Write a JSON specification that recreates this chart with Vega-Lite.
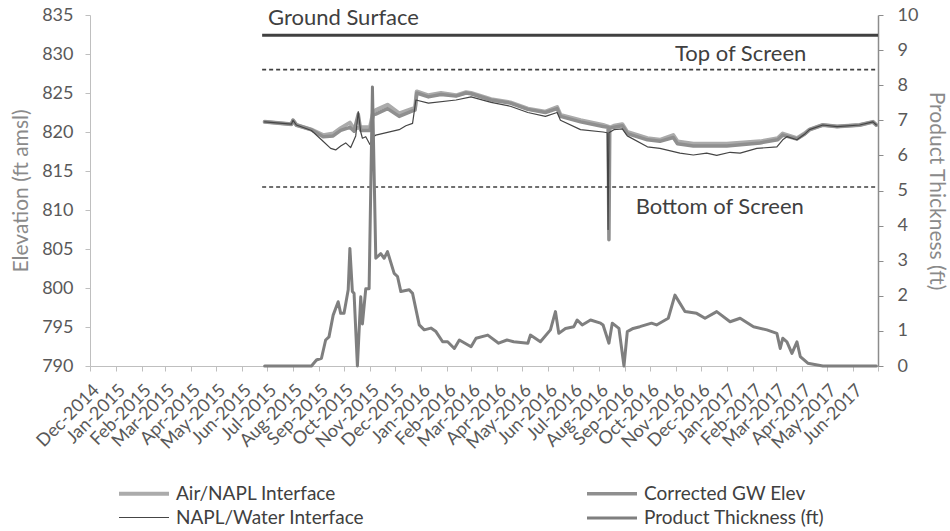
{
  "$schema": "https://vega.github.io/schema/vega-lite/v6.json",
  "width": 788,
  "height": 351,
  "autosize": {"type": "none"},
  "padding": {"left": 90, "top": 15, "right": 72, "bottom": 165},
  "background": "white",
  "config": {
    "view": {"stroke": null},
    "font": "Lato",
    "axis": {"grid": false, "domainColor": "#bfbfbf", "tickColor": "#bfbfbf", "labelColor": "#595959", "labelFontSize": 18, "titleColor": "#8a8a8a", "titleFontSize": 21, "titleFontWeight": "normal", "tickSize": 5, "labelFont": "Lato", "titleFont": "Lato", "labelOverlap": false},
    "legend": {"labelFont": "Lato"}
  },
  "datasets": {
    "elev": [
      {"date": "2015-06-28", "series": "Air/NAPL Interface", "value": 821.3},
      {"date": "2015-07-30", "series": "Air/NAPL Interface", "value": 821.0},
      {"date": "2015-08-01", "series": "Air/NAPL Interface", "value": 821.5},
      {"date": "2015-08-05", "series": "Air/NAPL Interface", "value": 820.9},
      {"date": "2015-08-23", "series": "Air/NAPL Interface", "value": 820.3},
      {"date": "2015-09-06", "series": "Air/NAPL Interface", "value": 819.6},
      {"date": "2015-09-18", "series": "Air/NAPL Interface", "value": 819.8},
      {"date": "2015-09-27", "series": "Air/NAPL Interface", "value": 820.5},
      {"date": "2015-10-08", "series": "Air/NAPL Interface", "value": 821.2},
      {"date": "2015-10-13", "series": "Air/NAPL Interface", "value": 820.4},
      {"date": "2015-10-21", "series": "Air/NAPL Interface", "value": 820.6},
      {"date": "2015-11-01", "series": "Air/NAPL Interface", "value": 820.6},
      {"date": "2015-11-05", "series": "Air/NAPL Interface", "value": 822.6},
      {"date": "2015-11-08", "series": "Air/NAPL Interface", "value": 822.8},
      {"date": "2015-11-22", "series": "Air/NAPL Interface", "value": 823.5},
      {"date": "2015-12-06", "series": "Air/NAPL Interface", "value": 822.4},
      {"date": "2015-12-22", "series": "Air/NAPL Interface", "value": 823.0},
      {"date": "2015-12-25", "series": "Air/NAPL Interface", "value": 823.1},
      {"date": "2015-12-27", "series": "Air/NAPL Interface", "value": 825.2},
      {"date": "2016-01-10", "series": "Air/NAPL Interface", "value": 824.7},
      {"date": "2016-01-25", "series": "Air/NAPL Interface", "value": 825.0},
      {"date": "2016-02-12", "series": "Air/NAPL Interface", "value": 824.7},
      {"date": "2016-02-24", "series": "Air/NAPL Interface", "value": 825.1},
      {"date": "2016-03-01", "series": "Air/NAPL Interface", "value": 825.0},
      {"date": "2016-03-25", "series": "Air/NAPL Interface", "value": 824.2},
      {"date": "2016-04-17", "series": "Air/NAPL Interface", "value": 823.8},
      {"date": "2016-05-08", "series": "Air/NAPL Interface", "value": 823.0},
      {"date": "2016-05-29", "series": "Air/NAPL Interface", "value": 822.6},
      {"date": "2016-06-12", "series": "Air/NAPL Interface", "value": 823.2},
      {"date": "2016-06-16", "series": "Air/NAPL Interface", "value": 822.2},
      {"date": "2016-07-10", "series": "Air/NAPL Interface", "value": 821.5},
      {"date": "2016-08-06", "series": "Air/NAPL Interface", "value": 820.9},
      {"date": "2016-08-15", "series": "Air/NAPL Interface", "value": 820.6},
      {"date": "2016-08-19", "series": "Air/NAPL Interface", "value": 820.8},
      {"date": "2016-08-29", "series": "Air/NAPL Interface", "value": 821.0},
      {"date": "2016-09-04", "series": "Air/NAPL Interface", "value": 820.0},
      {"date": "2016-09-28", "series": "Air/NAPL Interface", "value": 819.2},
      {"date": "2016-10-13", "series": "Air/NAPL Interface", "value": 819.0},
      {"date": "2016-10-29", "series": "Air/NAPL Interface", "value": 819.6},
      {"date": "2016-11-03", "series": "Air/NAPL Interface", "value": 818.8},
      {"date": "2016-11-22", "series": "Air/NAPL Interface", "value": 818.5},
      {"date": "2017-01-01", "series": "Air/NAPL Interface", "value": 818.5},
      {"date": "2017-02-10", "series": "Air/NAPL Interface", "value": 818.8},
      {"date": "2017-03-03", "series": "Air/NAPL Interface", "value": 819.2},
      {"date": "2017-03-09", "series": "Air/NAPL Interface", "value": 819.8},
      {"date": "2017-03-26", "series": "Air/NAPL Interface", "value": 819.2},
      {"date": "2017-04-04", "series": "Air/NAPL Interface", "value": 819.8},
      {"date": "2017-04-10", "series": "Air/NAPL Interface", "value": 820.3},
      {"date": "2017-04-26", "series": "Air/NAPL Interface", "value": 820.9},
      {"date": "2017-05-13", "series": "Air/NAPL Interface", "value": 820.7},
      {"date": "2017-06-09", "series": "Air/NAPL Interface", "value": 820.9},
      {"date": "2017-06-25", "series": "Air/NAPL Interface", "value": 821.3},
      {"date": "2017-06-29", "series": "Air/NAPL Interface", "value": 820.9},

      {"date": "2015-06-28", "series": "Corrected GW Elev", "value": 821.3},
      {"date": "2015-07-30", "series": "Corrected GW Elev", "value": 821.0},
      {"date": "2015-08-01", "series": "Corrected GW Elev", "value": 821.5},
      {"date": "2015-08-05", "series": "Corrected GW Elev", "value": 820.9},
      {"date": "2015-08-23", "series": "Corrected GW Elev", "value": 820.3},
      {"date": "2015-09-06", "series": "Corrected GW Elev", "value": 819.4},
      {"date": "2015-09-18", "series": "Corrected GW Elev", "value": 819.5},
      {"date": "2015-09-27", "series": "Corrected GW Elev", "value": 820.2},
      {"date": "2015-10-08", "series": "Corrected GW Elev", "value": 820.6},
      {"date": "2015-10-13", "series": "Corrected GW Elev", "value": 820.1},
      {"date": "2015-10-18", "series": "Corrected GW Elev", "value": 822.3},
      {"date": "2015-10-21", "series": "Corrected GW Elev", "value": 820.2},
      {"date": "2015-11-01", "series": "Corrected GW Elev", "value": 820.2},
      {"date": "2015-11-05", "series": "Corrected GW Elev", "value": 822.2},
      {"date": "2015-11-08", "series": "Corrected GW Elev", "value": 822.3},
      {"date": "2015-11-22", "series": "Corrected GW Elev", "value": 823.0},
      {"date": "2015-12-06", "series": "Corrected GW Elev", "value": 822.0},
      {"date": "2015-12-22", "series": "Corrected GW Elev", "value": 822.7},
      {"date": "2015-12-25", "series": "Corrected GW Elev", "value": 822.8},
      {"date": "2015-12-27", "series": "Corrected GW Elev", "value": 825.0},
      {"date": "2016-01-10", "series": "Corrected GW Elev", "value": 824.5},
      {"date": "2016-01-25", "series": "Corrected GW Elev", "value": 824.8},
      {"date": "2016-02-12", "series": "Corrected GW Elev", "value": 824.6},
      {"date": "2016-02-24", "series": "Corrected GW Elev", "value": 825.0},
      {"date": "2016-03-01", "series": "Corrected GW Elev", "value": 824.9},
      {"date": "2016-03-25", "series": "Corrected GW Elev", "value": 824.1},
      {"date": "2016-04-17", "series": "Corrected GW Elev", "value": 823.7},
      {"date": "2016-05-08", "series": "Corrected GW Elev", "value": 822.9},
      {"date": "2016-05-29", "series": "Corrected GW Elev", "value": 822.5},
      {"date": "2016-06-12", "series": "Corrected GW Elev", "value": 823.0},
      {"date": "2016-06-16", "series": "Corrected GW Elev", "value": 822.0},
      {"date": "2016-07-10", "series": "Corrected GW Elev", "value": 821.3},
      {"date": "2016-08-06", "series": "Corrected GW Elev", "value": 820.7},
      {"date": "2016-08-12", "series": "Corrected GW Elev", "value": 820.6},
      {"date": "2016-08-13", "series": "Corrected GW Elev", "value": 806.2},
      {"date": "2016-08-14", "series": "Corrected GW Elev", "value": 820.5},
      {"date": "2016-08-19", "series": "Corrected GW Elev", "value": 820.6},
      {"date": "2016-08-29", "series": "Corrected GW Elev", "value": 820.8},
      {"date": "2016-09-04", "series": "Corrected GW Elev", "value": 819.8},
      {"date": "2016-09-28", "series": "Corrected GW Elev", "value": 819.0},
      {"date": "2016-10-13", "series": "Corrected GW Elev", "value": 818.8},
      {"date": "2016-10-29", "series": "Corrected GW Elev", "value": 819.3},
      {"date": "2016-11-03", "series": "Corrected GW Elev", "value": 818.5},
      {"date": "2016-11-22", "series": "Corrected GW Elev", "value": 818.2},
      {"date": "2017-01-01", "series": "Corrected GW Elev", "value": 818.2},
      {"date": "2017-02-10", "series": "Corrected GW Elev", "value": 818.6},
      {"date": "2017-03-03", "series": "Corrected GW Elev", "value": 819.0},
      {"date": "2017-03-09", "series": "Corrected GW Elev", "value": 819.6},
      {"date": "2017-03-26", "series": "Corrected GW Elev", "value": 819.1},
      {"date": "2017-04-04", "series": "Corrected GW Elev", "value": 819.7},
      {"date": "2017-04-10", "series": "Corrected GW Elev", "value": 820.3},
      {"date": "2017-04-26", "series": "Corrected GW Elev", "value": 820.9},
      {"date": "2017-05-13", "series": "Corrected GW Elev", "value": 820.7},
      {"date": "2017-06-09", "series": "Corrected GW Elev", "value": 820.9},
      {"date": "2017-06-25", "series": "Corrected GW Elev", "value": 821.3},
      {"date": "2017-06-29", "series": "Corrected GW Elev", "value": 820.9},

      {"date": "2015-06-28", "series": "NAPL/Water Interface", "value": 821.3},
      {"date": "2015-07-30", "series": "NAPL/Water Interface", "value": 821.0},
      {"date": "2015-08-01", "series": "NAPL/Water Interface", "value": 821.5},
      {"date": "2015-08-05", "series": "NAPL/Water Interface", "value": 820.9},
      {"date": "2015-08-23", "series": "NAPL/Water Interface", "value": 820.2},
      {"date": "2015-09-04", "series": "NAPL/Water Interface", "value": 819.0},
      {"date": "2015-09-15", "series": "NAPL/Water Interface", "value": 817.9},
      {"date": "2015-09-21", "series": "NAPL/Water Interface", "value": 817.7},
      {"date": "2015-09-27", "series": "NAPL/Water Interface", "value": 818.2},
      {"date": "2015-10-03", "series": "NAPL/Water Interface", "value": 818.6},
      {"date": "2015-10-09", "series": "NAPL/Water Interface", "value": 818.0},
      {"date": "2015-10-15", "series": "NAPL/Water Interface", "value": 819.5},
      {"date": "2015-10-18", "series": "NAPL/Water Interface", "value": 822.6},
      {"date": "2015-10-21", "series": "NAPL/Water Interface", "value": 820.0},
      {"date": "2015-10-23", "series": "NAPL/Water Interface", "value": 819.2},
      {"date": "2015-10-27", "series": "NAPL/Water Interface", "value": 819.4},
      {"date": "2015-11-01", "series": "NAPL/Water Interface", "value": 818.4},
      {"date": "2015-11-05", "series": "NAPL/Water Interface", "value": 819.4},
      {"date": "2015-11-08", "series": "NAPL/Water Interface", "value": 819.6},
      {"date": "2015-12-06", "series": "NAPL/Water Interface", "value": 820.3},
      {"date": "2015-12-14", "series": "NAPL/Water Interface", "value": 820.8},
      {"date": "2015-12-22", "series": "NAPL/Water Interface", "value": 821.1},
      {"date": "2015-12-26", "series": "NAPL/Water Interface", "value": 824.1},
      {"date": "2016-01-10", "series": "NAPL/Water Interface", "value": 823.7},
      {"date": "2016-02-12", "series": "NAPL/Water Interface", "value": 824.1},
      {"date": "2016-03-01", "series": "NAPL/Water Interface", "value": 824.5},
      {"date": "2016-03-25", "series": "NAPL/Water Interface", "value": 823.8},
      {"date": "2016-04-17", "series": "NAPL/Water Interface", "value": 823.3},
      {"date": "2016-05-08", "series": "NAPL/Water Interface", "value": 822.5},
      {"date": "2016-05-29", "series": "NAPL/Water Interface", "value": 822.0},
      {"date": "2016-06-12", "series": "NAPL/Water Interface", "value": 822.5},
      {"date": "2016-06-16", "series": "NAPL/Water Interface", "value": 821.5},
      {"date": "2016-07-10", "series": "NAPL/Water Interface", "value": 820.3},
      {"date": "2016-08-06", "series": "NAPL/Water Interface", "value": 820.0},
      {"date": "2016-08-11", "series": "NAPL/Water Interface", "value": 819.9},
      {"date": "2016-08-12", "series": "NAPL/Water Interface", "value": 807.5},
      {"date": "2016-08-13", "series": "NAPL/Water Interface", "value": 819.9},
      {"date": "2016-08-19", "series": "NAPL/Water Interface", "value": 820.3},
      {"date": "2016-08-29", "series": "NAPL/Water Interface", "value": 820.4},
      {"date": "2016-09-04", "series": "NAPL/Water Interface", "value": 819.5},
      {"date": "2016-09-28", "series": "NAPL/Water Interface", "value": 818.1},
      {"date": "2016-10-13", "series": "NAPL/Water Interface", "value": 817.9},
      {"date": "2016-11-06", "series": "NAPL/Water Interface", "value": 817.3},
      {"date": "2016-11-22", "series": "NAPL/Water Interface", "value": 817.05},
      {"date": "2016-12-08", "series": "NAPL/Water Interface", "value": 817.3},
      {"date": "2016-12-20", "series": "NAPL/Water Interface", "value": 817.0},
      {"date": "2017-01-05", "series": "NAPL/Water Interface", "value": 817.4},
      {"date": "2017-01-17", "series": "NAPL/Water Interface", "value": 817.3},
      {"date": "2017-02-06", "series": "NAPL/Water Interface", "value": 817.9},
      {"date": "2017-03-02", "series": "NAPL/Water Interface", "value": 818.1},
      {"date": "2017-03-09", "series": "NAPL/Water Interface", "value": 819.0},
      {"date": "2017-03-14", "series": "NAPL/Water Interface", "value": 819.4},
      {"date": "2017-03-26", "series": "NAPL/Water Interface", "value": 819.0},
      {"date": "2017-04-04", "series": "NAPL/Water Interface", "value": 819.7},
      {"date": "2017-04-10", "series": "NAPL/Water Interface", "value": 820.3},
      {"date": "2017-04-26", "series": "NAPL/Water Interface", "value": 820.9},
      {"date": "2017-05-13", "series": "NAPL/Water Interface", "value": 820.7},
      {"date": "2017-06-09", "series": "NAPL/Water Interface", "value": 820.9},
      {"date": "2017-06-25", "series": "NAPL/Water Interface", "value": 821.3},
      {"date": "2017-06-29", "series": "NAPL/Water Interface", "value": 820.9}
    ],
    "thick": [
      {"date": "2015-06-28", "series": "Product Thickness (ft)", "value": 0},
      {"date": "2015-08-23", "series": "Product Thickness (ft)", "value": 0},
      {"date": "2015-08-29", "series": "Product Thickness (ft)", "value": 0.17},
      {"date": "2015-09-04", "series": "Product Thickness (ft)", "value": 0.22},
      {"date": "2015-09-09", "series": "Product Thickness (ft)", "value": 0.74},
      {"date": "2015-09-13", "series": "Product Thickness (ft)", "value": 0.83},
      {"date": "2015-09-18", "series": "Product Thickness (ft)", "value": 1.45},
      {"date": "2015-09-24", "series": "Product Thickness (ft)", "value": 1.83},
      {"date": "2015-09-27", "series": "Product Thickness (ft)", "value": 1.5},
      {"date": "2015-10-01", "series": "Product Thickness (ft)", "value": 1.5},
      {"date": "2015-10-06", "series": "Product Thickness (ft)", "value": 2.17},
      {"date": "2015-10-08", "series": "Product Thickness (ft)", "value": 3.35},
      {"date": "2015-10-11", "series": "Product Thickness (ft)", "value": 2.12},
      {"date": "2015-10-13", "series": "Product Thickness (ft)", "value": 2.07},
      {"date": "2015-10-17", "series": "Product Thickness (ft)", "value": 0},
      {"date": "2015-10-21", "series": "Product Thickness (ft)", "value": 1.97},
      {"date": "2015-10-23", "series": "Product Thickness (ft)", "value": 1.2},
      {"date": "2015-10-27", "series": "Product Thickness (ft)", "value": 2.2},
      {"date": "2015-10-31", "series": "Product Thickness (ft)", "value": 2.2},
      {"date": "2015-11-04", "series": "Product Thickness (ft)", "value": 7.95},
      {"date": "2015-11-08", "series": "Product Thickness (ft)", "value": 3.07},
      {"date": "2015-11-14", "series": "Product Thickness (ft)", "value": 3.2},
      {"date": "2015-11-18", "series": "Product Thickness (ft)", "value": 3.07},
      {"date": "2015-11-22", "series": "Product Thickness (ft)", "value": 3.26},
      {"date": "2015-11-30", "series": "Product Thickness (ft)", "value": 2.64},
      {"date": "2015-12-04", "series": "Product Thickness (ft)", "value": 2.55},
      {"date": "2015-12-08", "series": "Product Thickness (ft)", "value": 2.12},
      {"date": "2015-12-18", "series": "Product Thickness (ft)", "value": 2.17},
      {"date": "2015-12-22", "series": "Product Thickness (ft)", "value": 2.07},
      {"date": "2015-12-30", "series": "Product Thickness (ft)", "value": 1.17},
      {"date": "2016-01-05", "series": "Product Thickness (ft)", "value": 1.03},
      {"date": "2016-01-13", "series": "Product Thickness (ft)", "value": 1.08},
      {"date": "2016-01-19", "series": "Product Thickness (ft)", "value": 0.98},
      {"date": "2016-01-27", "series": "Product Thickness (ft)", "value": 0.69},
      {"date": "2016-02-02", "series": "Product Thickness (ft)", "value": 0.69},
      {"date": "2016-02-10", "series": "Product Thickness (ft)", "value": 0.5},
      {"date": "2016-02-16", "series": "Product Thickness (ft)", "value": 0.74},
      {"date": "2016-03-01", "series": "Product Thickness (ft)", "value": 0.55},
      {"date": "2016-03-07", "series": "Product Thickness (ft)", "value": 0.79},
      {"date": "2016-03-21", "series": "Product Thickness (ft)", "value": 0.88},
      {"date": "2016-04-03", "series": "Product Thickness (ft)", "value": 0.65},
      {"date": "2016-04-13", "series": "Product Thickness (ft)", "value": 0.74},
      {"date": "2016-04-21", "series": "Product Thickness (ft)", "value": 0.69},
      {"date": "2016-05-08", "series": "Product Thickness (ft)", "value": 0.65},
      {"date": "2016-05-11", "series": "Product Thickness (ft)", "value": 0.88},
      {"date": "2016-05-23", "series": "Product Thickness (ft)", "value": 0.69},
      {"date": "2016-06-04", "series": "Product Thickness (ft)", "value": 1.03},
      {"date": "2016-06-10", "series": "Product Thickness (ft)", "value": 1.55},
      {"date": "2016-06-14", "series": "Product Thickness (ft)", "value": 0.93},
      {"date": "2016-06-22", "series": "Product Thickness (ft)", "value": 1.07},
      {"date": "2016-07-02", "series": "Product Thickness (ft)", "value": 1.12},
      {"date": "2016-07-06", "series": "Product Thickness (ft)", "value": 1.31},
      {"date": "2016-07-12", "series": "Product Thickness (ft)", "value": 1.17},
      {"date": "2016-07-22", "series": "Product Thickness (ft)", "value": 1.31},
      {"date": "2016-08-03", "series": "Product Thickness (ft)", "value": 1.22},
      {"date": "2016-08-06", "series": "Product Thickness (ft)", "value": 1.17},
      {"date": "2016-08-13", "series": "Product Thickness (ft)", "value": 0.65},
      {"date": "2016-08-17", "series": "Product Thickness (ft)", "value": 1.22},
      {"date": "2016-08-25", "series": "Product Thickness (ft)", "value": 1.07},
      {"date": "2016-08-31", "series": "Product Thickness (ft)", "value": 0},
      {"date": "2016-09-04", "series": "Product Thickness (ft)", "value": 0.98},
      {"date": "2016-09-11", "series": "Product Thickness (ft)", "value": 1.07},
      {"date": "2016-09-19", "series": "Product Thickness (ft)", "value": 1.12},
      {"date": "2016-10-03", "series": "Product Thickness (ft)", "value": 1.22},
      {"date": "2016-10-09", "series": "Product Thickness (ft)", "value": 1.17},
      {"date": "2016-10-23", "series": "Product Thickness (ft)", "value": 1.36},
      {"date": "2016-10-31", "series": "Product Thickness (ft)", "value": 2.02},
      {"date": "2016-11-12", "series": "Product Thickness (ft)", "value": 1.55},
      {"date": "2016-11-26", "series": "Product Thickness (ft)", "value": 1.5},
      {"date": "2016-12-06", "series": "Product Thickness (ft)", "value": 1.36},
      {"date": "2016-12-20", "series": "Product Thickness (ft)", "value": 1.55},
      {"date": "2017-01-05", "series": "Product Thickness (ft)", "value": 1.26},
      {"date": "2017-01-17", "series": "Product Thickness (ft)", "value": 1.36},
      {"date": "2017-02-02", "series": "Product Thickness (ft)", "value": 1.12},
      {"date": "2017-02-18", "series": "Product Thickness (ft)", "value": 1.03},
      {"date": "2017-03-02", "series": "Product Thickness (ft)", "value": 0.93},
      {"date": "2017-03-06", "series": "Product Thickness (ft)", "value": 0.5},
      {"date": "2017-03-09", "series": "Product Thickness (ft)", "value": 0.79},
      {"date": "2017-03-14", "series": "Product Thickness (ft)", "value": 0.69},
      {"date": "2017-03-20", "series": "Product Thickness (ft)", "value": 0.36},
      {"date": "2017-03-26", "series": "Product Thickness (ft)", "value": 0.69},
      {"date": "2017-03-30", "series": "Product Thickness (ft)", "value": 0.27},
      {"date": "2017-04-08", "series": "Product Thickness (ft)", "value": 0.08},
      {"date": "2017-04-26", "series": "Product Thickness (ft)", "value": 0},
      {"date": "2017-06-29", "series": "Product Thickness (ft)", "value": 0}
    ],
    "refs": [
      {"ref": "Ground Surface", "kind": "solid", "start": "2015-06-25", "end": "2017-07-01", "value": 832.4},
      {"ref": "Top of Screen", "kind": "dashed", "start": "2015-06-25", "end": "2017-07-01", "value": 828.0},
      {"ref": "Bottom of Screen", "kind": "dashed", "start": "2015-06-25", "end": "2017-07-01", "value": 812.95}
    ],
    "labels": [
      {"label": "Ground Surface", "date": "2015-07-02", "value": 834.6},
      {"label": "Top of Screen", "date": "2016-10-31", "value": 830.0},
      {"label": "Bottom of Screen", "date": "2016-09-14", "value": 810.4}
    ]
  },
  "layer": [
    {
      "layer": [
        {
          "data": {"name": "elev"},
          "mark": {"type": "line", "strokeJoin": "round", "strokeCap": "round"},
          "encoding": {
            "x": {
              "field": "date", "type": "temporal",
              "scale": {"type": "utc", "domain": [{"year": 2014, "month": 12, "date": 1, "utc": true}, {"year": 2017, "month": 7, "date": 1, "utc": true}]},
              "axis": {"title": null, "format": "%b-%Y", "tickCount": {"interval": "month", "step": 1}, "labelAngle": -45, "labelAlign": "right", "labelBaseline": "top", "labelPadding": 10, "labelOverlap": false, "labelFlush": false, "labelBound": false, "labelExpr": "datum.label == 'Jul-2017' ? '' : datum.label"}
            },
            "y": {
              "field": "value", "type": "quantitative",
              "scale": {"domain": [790, 835], "zero": false, "nice": false},
              "axis": {"title": "Elevation (ft amsl)", "values": [790, 795, 800, 805, 810, 815, 820, 825, 830, 835], "tickCount": 10, "labelOverlap": false, "labelPadding": 12, "titlePadding": 10}
            },
            "color": {
              "field": "series", "type": "nominal",
              "scale": {"domain": ["Air/NAPL Interface", "Corrected GW Elev", "NAPL/Water Interface", "Product Thickness (ft)"], "range": ["#ababab", "#8f8f8f", "#454545", "#7f7f7f"]},
              "legend": {"title": null, "orient": "none", "direction": "horizontal", "legendX": 52, "legendY": 464, "columns": 2, "columnPadding": 216, "rowPadding": 0, "symbolType": "M -3 0 L 1 0", "symbolSize": 625, "labelFontSize": 19, "labelColor": "#404040", "labelLimit": 400, "labelOffset": 5}
            },
            "strokeWidth": {
              "field": "series", "type": "nominal",
              "scale": {"type": "ordinal", "domain": ["Air/NAPL Interface", "Corrected GW Elev", "NAPL/Water Interface", "Product Thickness (ft)"], "range": [4, 3.5, 1.2, 3]},
              "legend": {"title": null, "orient": "none", "direction": "horizontal", "legendX": 52, "legendY": 464, "columns": 2, "columnPadding": 216, "rowPadding": 0, "symbolType": "M -3 0 L 1 0", "symbolSize": 625, "labelFontSize": 19, "labelColor": "#404040", "labelLimit": 400, "labelOffset": 5}
            }
          }
        },
        {
          "data": {"name": "refs"},
          "transform": [{"filter": "datum.kind == 'solid'"}],
          "mark": {"type": "rule", "color": "#404040", "strokeWidth": 3},
          "encoding": {
            "x": {"field": "start", "type": "temporal"},
            "x2": {"field": "end"},
            "y": {"field": "value", "type": "quantitative", "axis": {"title": "Elevation (ft amsl)", "values": [790, 795, 800, 805, 810, 815, 820, 825, 830, 835], "tickCount": 10, "labelOverlap": false, "labelPadding": 12, "titlePadding": 10}}
          }
        },
        {
          "data": {"name": "refs"},
          "transform": [{"filter": "datum.kind == 'dashed'"}],
          "mark": {"type": "rule", "color": "#404040", "strokeWidth": 1.6, "strokeDash": [4, 3]},
          "encoding": {
            "x": {"field": "start", "type": "temporal"},
            "x2": {"field": "end"},
            "y": {"field": "value", "type": "quantitative", "axis": {"title": "Elevation (ft amsl)", "values": [790, 795, 800, 805, 810, 815, 820, 825, 830, 835], "tickCount": 10, "labelOverlap": false, "labelPadding": 12, "titlePadding": 10}}
          }
        },
        {
          "data": {"name": "labels"},
          "mark": {"type": "text", "align": "left", "baseline": "middle", "fontSize": 22, "color": "#404040", "font": "Lato"},
          "encoding": {
            "x": {"field": "date", "type": "temporal"},
            "y": {"field": "value", "type": "quantitative", "axis": {"title": "Elevation (ft amsl)", "values": [790, 795, 800, 805, 810, 815, 820, 825, 830, 835], "tickCount": 10, "labelOverlap": false, "labelPadding": 12, "titlePadding": 10}},
            "text": {"field": "label"}
          }
        }
      ]
    },
    {
      "data": {"name": "thick"},
      "mark": {"type": "line", "strokeJoin": "round", "strokeCap": "round"},
      "encoding": {
        "x": {"field": "date", "type": "temporal"},
        "y": {
          "field": "value", "type": "quantitative",
          "scale": {"domain": [0, 10], "nice": false},
          "axis": {"orient": "right", "title": "Product Thickness (ft)", "values": [0, 1, 2, 3, 4, 5, 6, 7, 8, 9, 10], "domainColor": "#8c8c8c", "tickColor": "#8c8c8c", "domainWidth": 1.5, "labelPadding": 14, "titlePadding": 8}
        },
        "color": {
          "field": "series", "type": "nominal",
          "scale": {"domain": ["Air/NAPL Interface", "Corrected GW Elev", "NAPL/Water Interface", "Product Thickness (ft)"], "range": ["#ababab", "#8f8f8f", "#454545", "#7f7f7f"]}
        },
        "strokeWidth": {
          "field": "series", "type": "nominal",
          "scale": {"type": "ordinal", "domain": ["Air/NAPL Interface", "Corrected GW Elev", "NAPL/Water Interface", "Product Thickness (ft)"], "range": [4, 3.5, 1.2, 3]}
        }
      }
    }
  ],
  "resolve": {"scale": {"y": "independent"}}
}
